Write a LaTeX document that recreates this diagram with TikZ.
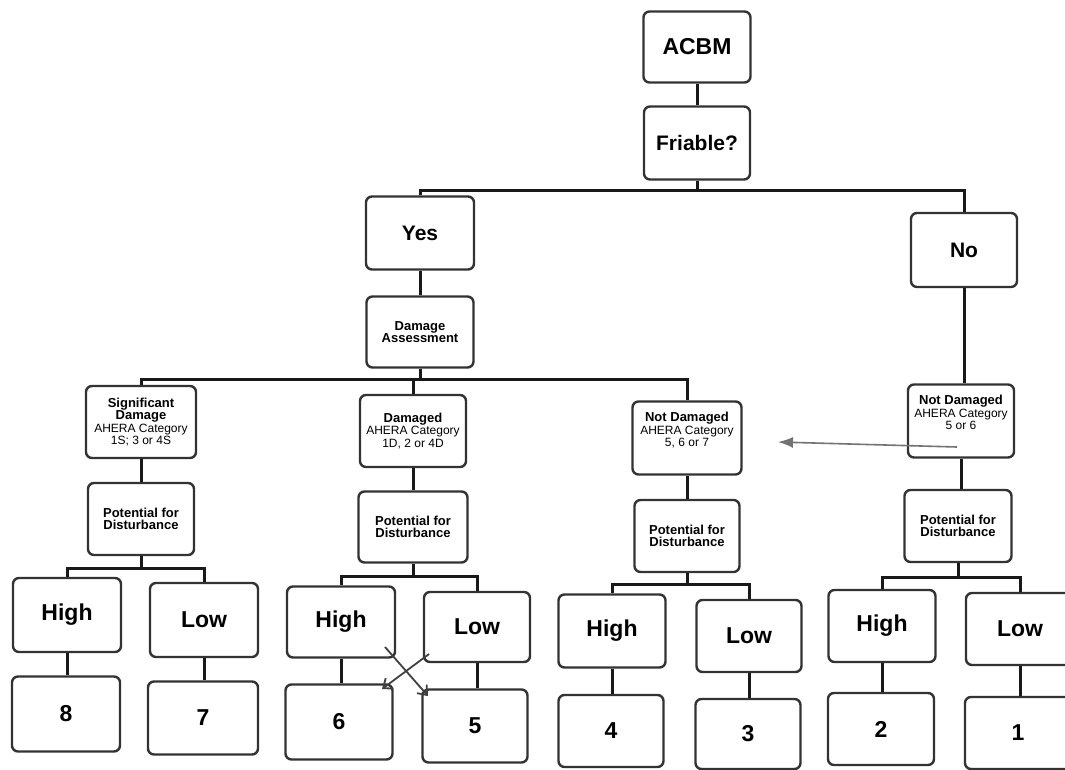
\documentclass[tikz,border=0pt]{standalone}
\usepackage{fontspec}
\setmainfont{Liberation Sans}
\usetikzlibrary{arrows.meta}
\newcommand\boldline[1]{{\fontsize{13}{12.5}\selectfont\bfseries #1}}
\begin{document}
\begin{tikzpicture}[x=1pt,y=-1pt,
  box/.style={draw=black!80, line width=2.4pt, rounded corners=6pt, fill=white, align=center, inner sep=2pt},
  big/.style={box, font=\fontsize{23}{26}\selectfont\bfseries},
  mid/.style={box, font=\fontsize{21}{24}\selectfont\bfseries},
  small/.style={box, font=\fontsize{12}{12.5}\selectfont},
  conn/.style={line width=3pt, black!90},
  garrow/.style={line width=1.6pt, black!55, -{Latex[length=15pt,width=11pt]}},
  xarrow/.style={line width=1.8pt, black!75, -{Straight Barb[length=8pt,width=13pt]}}]
\fill[white] (0,0) rectangle (1065,769);
\useasboundingbox (0,0) rectangle (1065,769);

% top
\node[big, minimum width=107pt, minimum height=71pt] (acbm) at (697,47) {ACBM};
\node[mid, minimum width=106pt, minimum height=73pt] (fri) at (697,143) {Friable?};
\node[mid, minimum width=108pt, minimum height=73pt] (yes) at (420,233) {Yes};
\node[mid, minimum width=106pt, minimum height=74pt] (no) at (964,250) {No};
\node[small, minimum width=107pt, minimum height=71pt] (da) at (420,332) {\boldline{Damage}\\\boldline{Assessment}};

% categories
\node[small, minimum width=110pt, minimum height=72pt] (sd) at (141,422) {\boldline{Significant}\\\boldline{Damage}\\AHERA Category\\1S; 3 or 4S};
\node[small, minimum width=106pt, minimum height=72pt] (dm) at (413,431) {\boldline{Damaged}\\AHERA Category\\1D, 2 or 4D};
\node[small, minimum width=109pt, minimum height=73pt] (nd1) at (687,438) {\boldline{Not Damaged}\\AHERA Category\\5, 6 or 7\\[4pt]};
\node[small, minimum width=106pt, minimum height=73pt] (nd2) at (961,421) {\boldline{Not Damaged}\\AHERA Category\\5 or 6\\[4pt]};

% potential for disturbance
\node[small, minimum width=106pt, minimum height=72pt] (p1) at (141,519) {\boldline{Potential for}\\\boldline{Disturbance}};
\node[small, minimum width=109pt, minimum height=71pt] (p2) at (413,527) {\boldline{Potential for}\\\boldline{Disturbance}};
\node[small, minimum width=105pt, minimum height=72pt] (p3) at (687,536) {\boldline{Potential for}\\\boldline{Disturbance}};
\node[small, minimum width=107pt, minimum height=72pt] (p4) at (958,526) {\boldline{Potential for}\\\boldline{Disturbance}};

% high / low
\node[big, minimum width=108pt, minimum height=74pt] (h1) at (67,615) {High};
\node[big, minimum width=108pt, minimum height=74pt] (l1) at (204,620) {Low};
\node[big, minimum width=108pt, minimum height=71pt] (h2) at (341,622) {High};
\node[big, minimum width=106pt, minimum height=70pt] (l2) at (477,627) {Low};
\node[big, minimum width=107pt, minimum height=73pt] (h3) at (612,631) {High};
\node[big, minimum width=105pt, minimum height=72pt] (l3) at (749,636) {Low};
\node[big, minimum width=107pt, minimum height=72pt] (h4) at (882,626) {High};
\node[big, minimum width=108pt, minimum height=72pt] (l4) at (1020,629) {Low};

% numbers
\node[big, minimum width=108pt, minimum height=75pt] (n8) at (66,714) {8};
\node[big, minimum width=110pt, minimum height=73pt] (n7) at (203,718) {7};
\node[big, minimum width=107pt, minimum height=75pt] (n6) at (339,722) {6};
\node[big, minimum width=105pt, minimum height=73pt] (n5) at (475,726) {5};
\node[big, minimum width=105pt, minimum height=72pt] (n4) at (611,731) {4};
\node[big, minimum width=105pt, minimum height=70pt] (n3) at (748,734) {3};
\node[big, minimum width=106pt, minimum height=72pt] (n2) at (881,729) {2};
\node[big, minimum width=106pt, minimum height=72pt] (n1) at (1018,733) {1};

% junctions
\coordinate (j0) at (697,190);
\coordinate (j1) at (420,379);
\coordinate (j2) at (141,568);
\coordinate (j3) at (413,576);
\coordinate (j4) at (687,584);
\coordinate (j5) at (958,577);

\draw[conn] (acbm) -- (fri);
\draw[conn] (fri) -- (j0);
\draw[conn] (yes.north) |- (j0) -| (no.north);
\draw[conn] (yes) -- (da);
\draw[conn] (da) -- (j1);
\draw[conn] (sd.north) |- (j1) -| (nd1.north);
\draw[conn] (dm.north) -- (dm.north |- j1);
\draw[conn] (no.south) -- (no.south |- nd2.north);
\draw[conn] (sd) -- (p1);
\draw[conn] (dm) -- (p2);
\draw[conn] (nd1) -- (p3);
\draw[conn] (nd2.south) -- (nd2.south |- p4.north);

\draw[conn] (p1) -- (j2);
\draw[conn] (h1.north) |- (j2) -| (l1.north);
\draw[conn] (p2) -- (j3);
\draw[conn] (h2.north) |- (j3) -| (l2.north);
\draw[conn] (p3) -- (j4);
\draw[conn] (h3.north) |- (j4) -| (l3.north);
\draw[conn] (p4) -- (j5);
\draw[conn] (h4.north) |- (j5) -| (l4.north);

\draw[conn] (h1.south) -- (h1.south |- n8.north);
\draw[conn] (l1.south) -- (l1.south |- n7.north);
\draw[conn] (h2.south) -- (h2.south |- n6.north);
\draw[conn] (l2.south) -- (l2.south |- n5.north);
\draw[conn] (h3.south) -- (h3.south |- n4.north);
\draw[conn] (l3.south) -- (l3.south |- n3.north);
\draw[conn] (h4.south) -- (h4.south |- n2.north);
\draw[conn] (l4.south) -- (l4.south |- n1.north);

% arrows
\coordinate (gs) at (957,447);
\coordinate (ge) at (778,442);
\draw[garrow] (gs) -- (ge);
\coordinate (xa) at (385,647);
\coordinate (xb) at (428,696);
\coordinate (xc) at (429,654);
\coordinate (xd) at (382,689);
\draw[xarrow] (xa) -- (xb);
\draw[xarrow] (xc) -- (xd);
\end{tikzpicture}
\end{document}
